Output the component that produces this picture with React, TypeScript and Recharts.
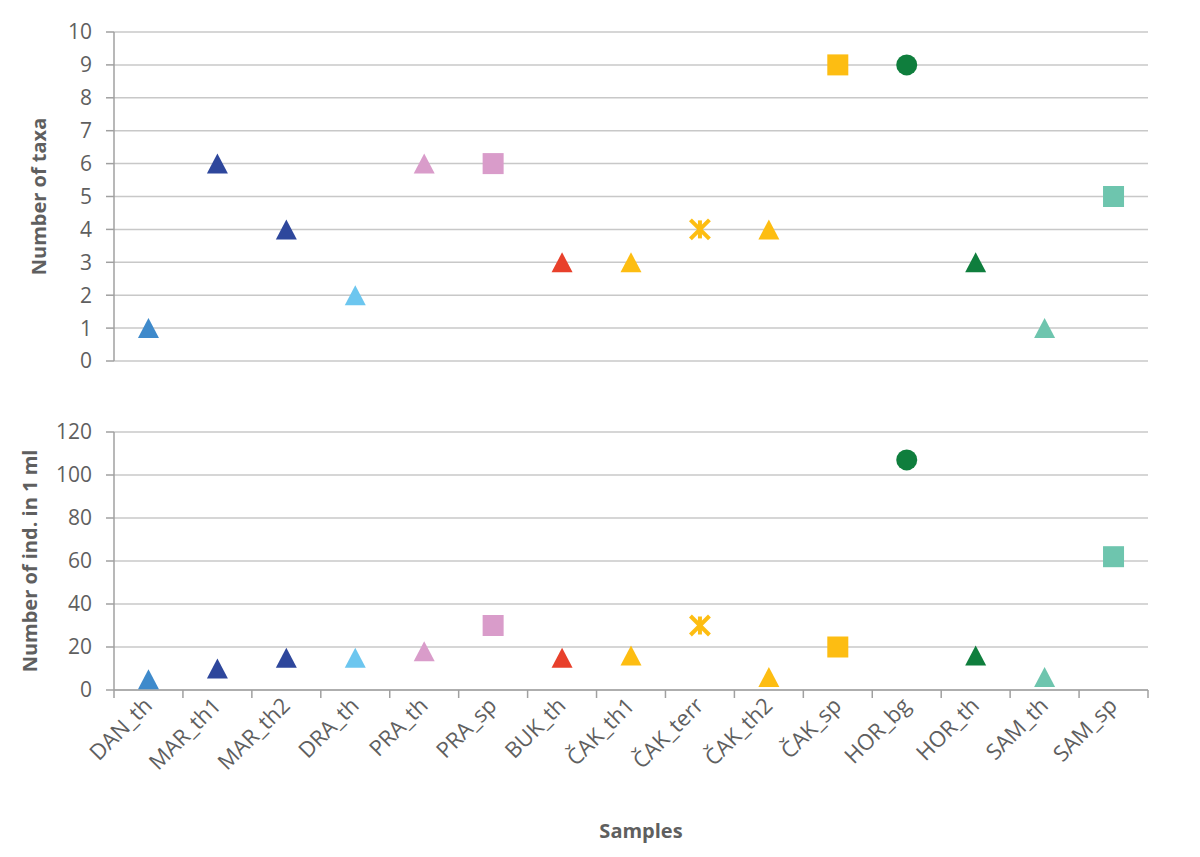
import React from 'react';
import { ComposedChart, Scatter, XAxis, YAxis, CartesianGrid } from 'recharts';

const samples = [
  'DAN_th', 'MAR_th1', 'MAR_th2', 'DRA_th', 'PRA_th', 'PRA_sp', 'BUK_th', 'ČAK_th1',
  'ČAK_terr', 'ČAK_th2', 'ČAK_sp', 'HOR_bg', 'HOR_th', 'SAM_th', 'SAM_sp',
];
const taxaCounts = [1, 6, 4, 2, 6, 6, 3, 3, 4, 4, 9, 9, 3, 1, 5];
const densities = [5, 10, 15, 15, 18, 30, 15, 16, 30, 6, 20, 107, 16, 6, 62];
const taxaTicks = [0, 1, 2, 3, 4, 5, 6, 7, 8, 9, 10];
const densityTicks = [0, 20, 40, 60, 80, 100, 120];

// marker look per sample (same order as samples)
const markerShapes = [
  'triangle', 'triangle', 'triangle', 'triangle', 'triangle', 'square', 'triangle', 'triangle',
  'star', 'triangle', 'square', 'circle', 'triangle', 'triangle', 'square',
];
const markerColors = [
  '#3f8acb', '#2e479c', '#2e479c', '#6cc6ef', '#d99cca', '#d99cca', '#e8402b', '#fdbd12',
  '#fdbd12', '#fdbd12', '#fdbd12', '#0f7e3d', '#0f7e3d', '#6ec5ae', '#6ec5ae',
];

const taxaData = samples.map((name, i) => ({ name, value: taxaCounts[i] }));
const densityData = samples.map((name, i) => ({ name, value: densities[i] }));

const WIDTH = 1200;
const PLOT_LEFT = 114;
const PLOT_RIGHT = 52;
const BAND = (WIDTH - PLOT_LEFT - PLOT_RIGHT) / samples.length;
const TEXT = '#5f5f5f';
const AXIS = '#a0a0a0';
const GRID = '#c8c8c8';

const Marker = (props: any) => {
  const { cx, cy, payload } = props;
  if (cx == null || cy == null) return null;
  let i = samples.indexOf(payload?.name);
  if (i < 0) i = props.index ?? 0;
  const color = markerColors[i];
  const shape = markerShapes[i];
  const s = 10.5;
  if (shape === 'square') {
    return <rect x={cx - s} y={cy - s} width={2 * s} height={2 * s} fill={color} />;
  }
  if (shape === 'circle') {
    return <circle cx={cx} cy={cy} r={s} fill={color} />;
  }
  if (shape === 'star') {
    return (
      <g stroke={color} strokeWidth={4}>
        <line x1={cx - 9.5} y1={cy - 9.5} x2={cx + 9.5} y2={cy + 9.5} />
        <line x1={cx - 9.5} y1={cy + 9.5} x2={cx + 9.5} y2={cy - 9.5} />
        <line x1={cx} y1={cy - 9} x2={cx} y2={cy + 9} />
      </g>
    );
  }
  return (
    <polygon
      points={`${cx},${cy - 10} ${cx + s},${cy + 10} ${cx - s},${cy + 10}`}
      fill={color}
    />
  );
};

const SampleTick = (props: any) => {
  const { x, y, payload, index } = props;
  const half = BAND / 2;
  const tx = x + 5;
  const ty = y + 17;
  return (
    <g>
      <line x1={x - half} y1={y} x2={x - half} y2={y + 8} stroke={AXIS} strokeWidth={1.5} />
      {index === samples.length - 1 && (
        <line x1={x + half} y1={y} x2={x + half} y2={y + 8} stroke={AXIS} strokeWidth={1.5} />
      )}
      <text
        x={tx}
        y={ty}
        transform={`rotate(-45 ${tx} ${ty})`}
        textAnchor="end"
        fill={TEXT}
        fontSize={22}
      >
        {payload.value}
      </text>
    </g>
  );
};

const yTick = { fill: TEXT, fontSize: 21 };

export default function App() {
  return (
    <div
      style={{
        position: 'absolute',
        left: 0,
        top: 0,
        width: WIDTH,
        height: 857,
        background: '#fff',
        fontFamily: '"Open Sans", sans-serif',
      }}
    >
      <ComposedChart
        width={WIDTH}
        height={380}
        data={taxaData}
        margin={{ top: 32, right: PLOT_RIGHT, bottom: 19, left: 0 }}
      >
        <CartesianGrid vertical={false} stroke={GRID} strokeWidth={1.5} />
        <XAxis dataKey="name" scale="band" hide />
        <YAxis
          width={PLOT_LEFT}
          domain={[0, 10]}
          ticks={taxaTicks}
          interval={0}
          tick={yTick}
          tickSize={8}
          tickMargin={14}
          axisLine={{ stroke: AXIS, strokeWidth: 1.5 }}
          tickLine={{ stroke: AXIS, strokeWidth: 1.5 }}
          label={{
            value: 'Number of taxa',
            angle: -90,
            position: 'insideLeft',
            dx: 34,
            style: { textAnchor: 'middle', fill: TEXT, fontSize: 20, fontWeight: 700 },
          }}
        />
        <Scatter dataKey="value" shape={<Marker />} isAnimationActive={false} />
      </ComposedChart>

      <ComposedChart
        width={WIDTH}
        height={477}
        data={densityData}
        margin={{ top: 52, right: PLOT_RIGHT, bottom: 17, left: 0 }}
      >
        <CartesianGrid vertical={false} stroke={GRID} strokeWidth={1.5} />
        <XAxis
          dataKey="name"
          scale="band"
          interval={0}
          height={150}
          tickSize={0}
          tickMargin={0}
          tickLine={false}
          axisLine={{ stroke: AXIS, strokeWidth: 1.5 }}
          tick={<SampleTick />}
          label={{
            value: 'Samples',
            position: 'insideBottom',
            offset: 2,
            dx: 10,
            style: { fill: TEXT, fontSize: 20, fontWeight: 700 },
          }}
        />
        <YAxis
          width={PLOT_LEFT}
          domain={[0, 120]}
          ticks={densityTicks}
          interval={0}
          tick={yTick}
          tickSize={8}
          tickMargin={14}
          axisLine={{ stroke: AXIS, strokeWidth: 1.5 }}
          tickLine={{ stroke: AXIS, strokeWidth: 1.5 }}
          label={{
            value: 'Number of ind. in 1 ml',
            angle: -90,
            position: 'insideLeft',
            dx: 25,
            style: { textAnchor: 'middle', fill: TEXT, fontSize: 20, fontWeight: 700 },
          }}
        />
        <Scatter dataKey="value" shape={<Marker />} isAnimationActive={false} />
      </ComposedChart>
    </div>
  );
}
